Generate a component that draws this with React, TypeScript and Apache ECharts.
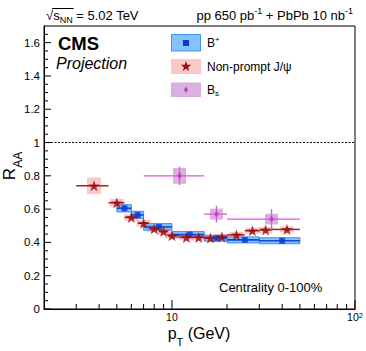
import React, { useEffect, useRef } from 'react';
import * as echarts from 'echarts';

const FONT = '"Liberation Sans", Arial, Helvetica, sans-serif';

// ---- B+ ----
const bpX = [5.5, 6.5, 8.5, 12.5, 17.5, 25, 40];
const bpLo = [5, 6, 7, 10, 15, 20, 30];
const bpHi = [6, 7, 10, 15, 20, 30, 50];
const bpY = [0.605, 0.565, 0.493, 0.447, 0.425, 0.415, 0.41];
const bpStat = [0.015, 0.015, 0.012, 0.01, 0.01, 0.01, 0.012];
const bpSys = [0.022, 0.022, 0.02, 0.018, 0.018, 0.018, 0.018];

// ---- Non-prompt J/psi ----
const jX = [3.75, 5, 6, 7, 8, 9, 10, 12, 14, 16.25, 18.75, 22.5, 27.5, 32.5, 42.5];
const jLo = [3, 4.5, 5.5, 6.5, 7.5, 8.5, 9.5, 11, 13, 15, 17.5, 20, 25, 30, 35];
const jHi = [4.5, 5.5, 6.5, 7.5, 8.5, 9.5, 11, 13, 15, 17.5, 20, 25, 30, 35, 50];
const jY = [0.74, 0.638, 0.55, 0.515, 0.482, 0.465, 0.44, 0.43, 0.43, 0.427, 0.433, 0.445, 0.47, 0.475, 0.478];
const jStat = [0.01, 0.008, 0.006, 0.006, 0.006, 0.006, 0.006, 0.006, 0.006, 0.006, 0.006, 0.006, 0.008, 0.008, 0.01];
const jSys = [0.05, 0.024, 0.02, 0.02, 0.02, 0.02, 0.018, 0.018, 0.018, 0.018, 0.018, 0.018, 0.018, 0.018, 0.018];

// ---- Bs ----
const bsX = [11, 17.5, 35];
const bsLo = [7, 15, 20];
const bsHi = [15, 20, 50];
const bsY = [0.8, 0.57, 0.54];
const bsStat = [0.055, 0.05, 0.06];
const bsSys = [0.048, 0.033, 0.032];

// ---- axis ticks ----
const xMajorTicks = [10, 100];
const xMinorTicks = [3, 4, 5, 6, 7, 8, 9, 20, 30, 40, 50, 60, 70, 80, 90];
const yMajorTicks = [0, 0.2, 0.4, 0.6, 0.8, 1, 1.2, 1.4, 1.6];
const yMinorStep = 0.05;
const yMax = 1.7;
const xMin = 2;
const xMax = 100;

const STAR_PATH =
  'path://M0,-10L2.35,-3.24L9.51,-3.09L3.8,1.24L5.88,8.09L0,4L-5.88,8.09L-3.8,1.24L-9.51,-3.09L-2.35,-3.24Z';

let measureCtx: CanvasRenderingContext2D | null = null;
function textWidth(t: string, size: number, weight = 'normal', style = 'normal') {
  if (!measureCtx) measureCtx = document.createElement('canvas').getContext('2d');
  if (!measureCtx) return t.length * size * 0.55;
  measureCtx.font = `${style} ${weight} ${size}px ${FONT}`;
  return measureCtx.measureText(t).width;
}

type Piece = { t: string; size: number; dy?: number; weight?: string; style?: string };
function richGroup(pieces: Piece[], x: number, y: number, align: 'left' | 'right' | 'center', rotation = 0) {
  const widths = pieces.map((p) => textWidth(p.t, p.size, p.weight, p.style));
  const total = widths.reduce((a, b) => a + b, 0);
  let cur = align === 'left' ? 0 : align === 'right' ? -total : -total / 2;
  const children = pieces.map((p, i) => {
    const el = {
      type: 'text',
      x: cur,
      y: p.dy || 0,
      style: {
        text: p.t,
        fontSize: p.size,
        fontFamily: FONT,
        fontWeight: p.weight || 'normal',
        fontStyle: p.style || 'normal',
        fill: '#000',
        align: 'left',
        verticalAlign: 'middle',
        textAlign: 'left',
        textVerticalAlign: 'middle',
      },
    };
    cur += widths[i];
    return el;
  });
  return { group: { type: 'group', x, y, rotation, children }, widths };
}

function starPoints(cx: number, cy: number, r: number) {
  const pts: number[][] = [];
  for (let k = 0; k < 10; k++) {
    const ang = -Math.PI / 2 + (k * Math.PI) / 5;
    const rr = k % 2 === 0 ? r : r * 0.4;
    pts.push([cx + rr * Math.cos(ang), cy + rr * Math.sin(ang)]);
  }
  return pts;
}

function boxSeries(name: string, x: number[], y: number[], sys: number[], lo: number[] | null, hi: number[] | null, fill: string, stroke: string | null, halfPx: number) {
  return {
    type: 'custom',
    name,
    z: 2,
    silent: true,
    data: x.map((v, i) => [v, y[i], sys[i], lo ? lo[i] : v, hi ? hi[i] : v]),
    encode: { x: 0, y: 1 },
    renderItem: (_p: any, api: any) => {
      const xv = api.value(0);
      const yv = api.value(1);
      const s = api.value(2);
      const c = api.coord([xv, yv]);
      const t = api.coord([xv, yv + s])[1];
      const b = api.coord([xv, yv - s])[1];
      let x0: number;
      let x1: number;
      if (halfPx > 0) {
        x0 = c[0] - halfPx;
        x1 = c[0] + halfPx;
      } else {
        x0 = api.coord([api.value(3), yv])[0];
        x1 = api.coord([api.value(4), yv])[0];
      }
      return {
        type: 'rect',
        shape: { x: x0, y: t, width: x1 - x0, height: b - t },
        style: { fill, stroke: stroke || 'none', lineWidth: stroke ? 1 : 0 },
      };
    },
  };
}

function errSeries(name: string, x: number[], y: number[], err: number[], lo: number[], hi: number[], color: string, width: number) {
  return {
    type: 'custom',
    name,
    z: 3,
    silent: true,
    data: x.map((v, i) => [v, y[i], err[i], lo[i], hi[i]]),
    encode: { x: 0, y: 1 },
    renderItem: (_p: any, api: any) => {
      const xv = api.value(0);
      const yv = api.value(1);
      const e = api.value(2);
      const a = api.coord([api.value(3), yv]);
      const b = api.coord([api.value(4), yv]);
      const c = api.coord([xv, yv]);
      const t = api.coord([xv, yv + e]);
      const d = api.coord([xv, yv - e]);
      return {
        type: 'group',
        children: [
          { type: 'line', shape: { x1: a[0], y1: a[1], x2: b[0], y2: b[1] }, style: { stroke: color, lineWidth: width } },
          { type: 'line', shape: { x1: c[0], y1: t[1], x2: c[0], y2: d[1] }, style: { stroke: color, lineWidth: width } },
        ],
      };
    },
  };
}

export default function App() {
  const ref = useRef<HTMLDivElement>(null);
  useEffect(() => {
    if (!ref.current) return;
    const chart = echarts.init(ref.current, undefined, { renderer: 'svg' });

    const yMinorTicks: number[] = [];
    for (let k = 1; k * yMinorStep < yMax - 1e-9; k++) {
      const v = +(k * yMinorStep).toFixed(2);
      if (!yMajorTicks.some((m) => Math.abs(m - v) < 1e-6)) yMinorTicks.push(v);
    }
    const tickData = [
      ...xMajorTicks.map((v) => [v, 0, 9, 0]),
      ...xMinorTicks.map((v) => [v, 0, 5, 0]),
      ...yMajorTicks.map((v) => [xMin, v, 7, 1]),
      ...yMinorTicks.map((v) => [xMin, v, 4, 1]),
    ];

    const sqrtX = 46;
    const sqrt = richGroup(
      [
        { t: '√', size: 13 },
        { t: 's', size: 13 },
        { t: 'NN', size: 9, dy: 4 },
        { t: ' = 5.02 TeV', size: 13 },
      ],
      sqrtX,
      15.5,
      'left'
    );
    const w = sqrt.widths;
    const olX1 = sqrtX + w[0] - 1;
    const olX2 = sqrtX + w[0] + w[1] + w[2] + 1;

    const elements: any[] = [
      sqrt.group,
      { type: 'line', shape: { x1: olX1, y1: 8.5, x2: olX2, y2: 8.5 }, style: { stroke: '#000', lineWidth: 1 } },
      richGroup(
        [
          { t: 'pp 650 pb', size: 13 },
          { t: '-1', size: 9, dy: -5 },
          { t: ' + PbPb 10 nb', size: 13 },
          { t: '-1', size: 9, dy: -5 },
        ],
        353,
        15.5,
        'right'
      ).group,
      richGroup([{ t: 'CMS', size: 18.5, weight: 'bold' }], 58, 43, 'left').group,
      richGroup([{ t: 'Projection', size: 16, style: 'italic' }], 56, 63, 'left').group,
      // legend
      { type: 'rect', shape: { x: 171.5, y: 34.5, width: 29, height: 16.5 }, style: { fill: 'rgba(51,153,255,0.6)', stroke: 'rgba(40,140,240,0.9)', lineWidth: 1 } },
      { type: 'rect', shape: { x: 183, y: 40, width: 6, height: 6 }, style: { fill: '#0a3cd2' } },
      richGroup([{ t: 'B', size: 12 }, { t: '+', size: 8, dy: -4 }], 207, 43, 'left').group,
      { type: 'rect', shape: { x: 171, y: 59, width: 30, height: 15 }, style: { fill: 'rgba(245,110,110,0.38)' } },
      { type: 'polygon', shape: { points: starPoints(186, 66.5, 5.5) }, style: { fill: '#990d0d' } },
      richGroup([{ t: 'Non-prompt J/ψ', size: 12 }], 207, 66.5, 'left').group,
      { type: 'rect', shape: { x: 171, y: 82.5, width: 30, height: 14.5 }, style: { fill: 'rgba(180,90,190,0.48)' } },
      { type: 'polygon', shape: { points: [[186, 86.5], [188, 89.7], [186, 93], [184, 89.7]] }, style: { fill: '#cc33cc' } },
      richGroup([{ t: 'B', size: 12 }, { t: 's', size: 8, dy: 4 }], 207, 89.5, 'left').group,
      // centrality
      richGroup([{ t: 'Centrality 0-100%', size: 13 }], 219, 287.5, 'left').group,
      // x title
      richGroup(
        [
          { t: 'p', size: 16 },
          { t: 'T', size: 11, dy: 9 },
          { t: ' (GeV)', size: 16 },
        ],
        199,
        333,
        'center'
      ).group,
      // y title
      richGroup(
        [
          { t: 'R', size: 17 },
          { t: 'AA', size: 12, dy: 9 },
        ],
        9,
        166,
        'center',
        Math.PI / 2
      ).group,
    ];

    const option: any = {
      animation: false,
      backgroundColor: '#fff',
      grid: { left: 44, right: 11, top: 26, bottom: 42, show: true, borderColor: '#000', borderWidth: 1, backgroundColor: 'transparent' },
      xAxis: {
        type: 'log',
        logBase: 10,
        min: xMin,
        max: xMax,
        axisLine: { show: true, lineStyle: { color: '#000', width: 1 } },
        axisTick: { show: false },
        splitLine: { show: false },
        minorTick: { show: false },
        axisLabel: {
          margin: 2,
          color: '#000',
          fontFamily: FONT,
          fontSize: 10.5,
          formatter: (v: number) => {
            if (Math.abs(v - 10) < 1e-6) return '{a|10}';
            if (Math.abs(v - 100) < 1e-6) return '{a|10}{s|2}';
            return '';
          },
          rich: {
            a: { fontSize: 10.5, fontFamily: FONT, color: '#000', verticalAlign: 'bottom' },
            s: { fontSize: 7.5, fontFamily: FONT, color: '#000', verticalAlign: 'top' },
          },
        },
      },
      yAxis: {
        type: 'value',
        min: 0,
        max: yMax,
        interval: 0.2,
        axisLine: { show: true, lineStyle: { color: '#000', width: 1 } },
        axisTick: { show: false },
        splitLine: { show: false },
        axisLabel: {
          margin: 4,
          color: '#000',
          fontFamily: FONT,
          fontSize: 11.5,
          showMaxLabel: false,
          formatter: (v: number) => (yMajorTicks.some((m) => Math.abs(m - v) < 1e-6) ? String(+v.toFixed(1)) : ''),
        },
      },
      graphic: { elements },
      series: [
        {
          type: 'line',
          name: 'unity',
          z: 1,
          silent: true,
          symbol: 'none',
          data: [
            [xMin, 1],
            [xMax, 1],
          ],
          lineStyle: { color: '#000', width: 1, type: [2, 1.5] },
        },
        boxSeries('B+ sys', bpX, bpY, bpSys, bpLo, bpHi, 'rgba(51,153,255,0.6)', 'rgba(40,140,240,0.9)', 0),
        boxSeries('J/psi sys', jX, jY, jSys, null, null, 'rgba(245,110,110,0.38)', null, 7),
        boxSeries('Bs sys', bsX, bsY, bsSys, null, null, 'rgba(180,90,190,0.48)', null, 6.5),
        errSeries('B+ stat', bpX, bpY, bpStat, bpLo, bpHi, '#1446d8', 1.6),
        errSeries('J/psi stat', jX, jY, jStat, jLo, jHi, '#a52020', 1.5),
        errSeries('Bs stat', bsX, bsY, bsStat, bsLo, bsHi, '#dd55dd', 1.3),
        {
          type: 'scatter',
          name: 'B+',
          z: 4,
          symbol: 'rect',
          symbolSize: 6,
          itemStyle: { color: '#0a3cd2' },
          data: bpX.map((v, i) => [v, bpY[i]]),
        },
        {
          type: 'scatter',
          name: 'Non-prompt J/psi',
          z: 5,
          symbol: STAR_PATH,
          symbolKeepAspect: true,
          symbolSize: 11.5,
          itemStyle: { color: '#990d0d' },
          data: jX.map((v, i) => [v, jY[i]]),
        },
        {
          type: 'scatter',
          name: 'Bs',
          z: 5,
          symbol: 'diamond',
          symbolSize: [5, 7],
          itemStyle: { color: '#cc33cc' },
          data: bsX.map((v, i) => [v, bsY[i]]),
        },
        {
          type: 'custom',
          name: 'ticks',
          z: 6,
          silent: true,
          clip: false,
          data: tickData,
          encode: { x: 0, y: 1 },
          renderItem: (_p: any, api: any) => {
            const c = api.coord([api.value(0), api.value(1)]);
            const len = api.value(2);
            const isY = api.value(3) === 1;
            return {
              type: 'line',
              shape: isY
                ? { x1: c[0], y1: c[1], x2: c[0] + len, y2: c[1] }
                : { x1: c[0], y1: c[1], x2: c[0], y2: c[1] - len },
              style: { stroke: '#000', lineWidth: 1 },
            };
          },
        },
      ],
    };
    chart.setOption(option);
    return () => chart.dispose();
  }, []);
  return <div ref={ref} style={{ position: 'fixed', left: 0, top: 0, width: 366, height: 351, background: '#fff' }} />;
}
